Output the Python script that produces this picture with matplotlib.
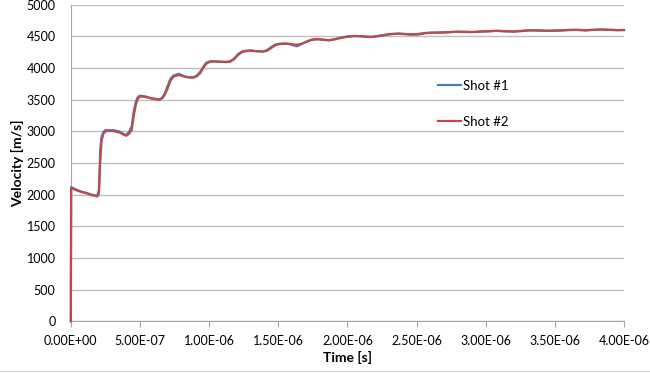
import matplotlib
matplotlib.use("Agg")
import matplotlib.pyplot as plt
from matplotlib.ticker import FuncFormatter, MultipleLocator
from matplotlib.lines import Line2D

# time in microseconds (converted to seconds below)
t_us = [0, 0.002, 0.02, 0.05, 0.08, 0.10, 0.13, 0.15, 0.17, 0.19,
        0.203, 0.212, 0.222, 0.235, 0.25, 0.27, 0.29, 0.31, 0.33, 0.355,
        0.38, 0.40, 0.42, 0.44, 0.455, 0.47, 0.485, 0.50, 0.52, 0.55,
        0.58, 0.61, 0.64, 0.66, 0.68, 0.70, 0.72, 0.74, 0.76, 0.78,
        0.80, 0.83, 0.86, 0.885, 0.91, 0.935, 0.96, 0.98, 1.00, 1.03,
        1.06, 1.09, 1.12, 1.15, 1.18, 1.21, 1.24, 1.27, 1.30, 1.33,
        1.36, 1.39, 1.42, 1.45, 1.48, 1.51, 1.55, 1.58, 1.61, 1.635,
        1.66, 1.68, 1.71, 1.74, 1.78, 1.81, 1.84, 1.87, 1.90, 1.95,
        2.00, 2.05, 2.09, 2.13, 2.17, 2.21, 2.25, 2.31, 2.37, 2.42,
        2.46, 2.51, 2.56, 2.61, 2.67, 2.73, 2.79, 2.85, 2.90, 2.96,
        3.02, 3.08, 3.14, 3.20, 3.26, 3.32, 3.38, 3.44, 3.50, 3.56,
        3.60, 3.66, 3.72, 3.78, 3.84, 3.90, 3.95, 4.00]

shot1 = [0, 2120, 2100, 2070, 2045, 2035, 2015, 2000, 1990, 1980,
         2080, 2700, 2920, 2990, 3020, 3015, 3020, 3015, 3010, 2995,
         2960, 2945, 2990, 3080, 3320, 3470, 3545, 3565, 3560, 3545,
         3525, 3515, 3505, 3530, 3600, 3720, 3830, 3880, 3895, 3910,
         3890, 3865, 3855, 3855, 3880, 3940, 4030, 4085, 4105, 4110,
         4105, 4100, 4100, 4105, 4150, 4225, 4265, 4275, 4280, 4270,
         4265, 4265, 4285, 4335, 4375, 4385, 4390, 4380, 4360, 4345,
         4370, 4395, 4425, 4450, 4460, 4455, 4445, 4440, 4455, 4480,
         4500, 4510, 4505, 4500, 4495, 4505, 4520, 4540, 4545, 4540,
         4535, 4540, 4555, 4560, 4565, 4570, 4575, 4570, 4570, 4580,
         4585, 4590, 4580, 4580, 4590, 4600, 4595, 4590, 4595, 4600,
         4600, 4605, 4600, 4605, 4610, 4605, 4600, 4605]

shot2 = [0, 2100, 2090, 2060, 2040, 2030, 2010, 1990, 1985, 1970,
         2010, 2500, 2850, 2960, 3000, 3010, 3005, 3010, 2990, 2980,
         2950, 2930, 2960, 3020, 3250, 3420, 3520, 3550, 3550, 3540,
         3520, 3510, 3500, 3520, 3580, 3680, 3800, 3860, 3880, 3890,
         3880, 3860, 3850, 3850, 3870, 3920, 4010, 4070, 4095, 4105,
         4100, 4100, 4095, 4100, 4140, 4210, 4255, 4270, 4275, 4270,
         4265, 4260, 4275, 4320, 4365, 4380, 4385, 4385, 4375, 4370,
         4380, 4395, 4420, 4445, 4455, 4450, 4445, 4440, 4450, 4475,
         4495, 4505, 4505, 4495, 4490, 4500, 4515, 4535, 4545, 4535,
         4530, 4530, 4550, 4560, 4560, 4565, 4575, 4575, 4570, 4575,
         4580, 4590, 4585, 4575, 4585, 4595, 4595, 4590, 4590, 4595,
         4605, 4605, 4595, 4605, 4610, 4605, 4600, 4600]

labels = ["Shot #1", "Shot #2"]

t = [v * 1e-6 for v in t_us]

plt.rcParams['font.family'] = ['Lato', 'DejaVu Sans']

fig = plt.figure(figsize=(6.5, 3.73), dpi=100)
ax = fig.add_axes([0.109, 0.139, 0.851, 0.848])

ax.plot(t, shot1, color='#4a7ebb', lw=1.6, label=labels[0], zorder=3, clip_on=False)
ax.plot(t, shot2, color='#be4b48', lw=1.6, label=labels[1], zorder=3, clip_on=False)

ax.set_xlim(0, 4e-6)
ax.set_ylim(0, 5000)
ax.xaxis.set_major_locator(MultipleLocator(5e-7))
ax.yaxis.set_major_locator(MultipleLocator(500))
ax.xaxis.set_major_formatter(FuncFormatter(lambda x, p: f"{x:.2E}"))
ax.yaxis.set_major_formatter(FuncFormatter(lambda y, p: f"{y:.0f}"))

ax.grid(axis='y', color='#bfbfbf', lw=1)
ax.set_axisbelow(True)
for s in ['top', 'right']:
    ax.spines[s].set_visible(False)
for s in ['left', 'bottom']:
    ax.spines[s].set_color('#a6a6a6')
ax.tick_params(axis='x', length=4, color='#a6a6a6', labelsize=9, pad=6)
ax.tick_params(axis='y', length=0, labelsize=9, pad=11)

ax.set_xlabel("Time [s]", fontsize=10, fontweight='bold', labelpad=3)
ax.set_ylabel("Velocity [m/s]", fontsize=10, fontweight='bold', labelpad=2)

ax.legend(loc='center left', bbox_to_anchor=(0.643, 0.687), frameon=False,
          fontsize=9.5, handlelength=1.7, handletextpad=0.2, labelspacing=1.8)

fig.add_artist(Line2D([0, 1], [0.006, 0.006], color='#d9d9d9', lw=1))

fig.savefig("out.png", dpi=100)
